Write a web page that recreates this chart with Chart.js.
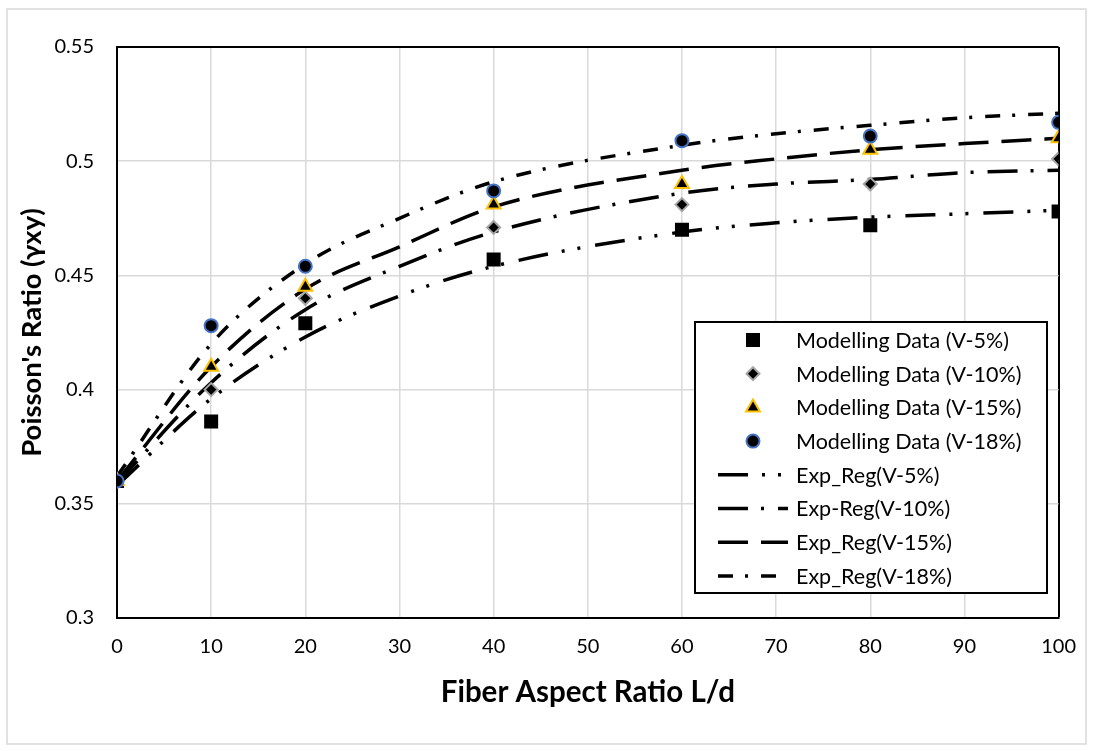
<!DOCTYPE html>
<html lang="en">
<head>
    <meta charset="UTF-8">
    <title>Poisson's Ratio vs Fiber Aspect Ratio</title>
    <script src="https://cdn.jsdelivr.net/npm/chart.js"></script>
    <style>
        * { margin: 0; padding: 0; box-sizing: border-box; }
        body { background: #fff; }
        .chart-box { position: relative; width: 1093px; height: 751px; }
    </style>
</head>
<body>
    <div class="chart-box">
        <canvas id="poissonChart"></canvas>
    </div>

    <script>
        // modelling results
        const aspectRatio = [0, 10, 20, 40, 60, 80, 100];
        const model5  = [0.36, 0.386, 0.429, 0.457, 0.470, 0.472, 0.478];
        const model10 = [0.36, 0.400, 0.440, 0.471, 0.481, 0.490, 0.501];
        const model15 = [0.36, 0.410, 0.445, 0.481, 0.490, 0.505, 0.510];
        const model18 = [0.36, 0.428, 0.454, 0.487, 0.509, 0.511, 0.517];

        // regression curves
        const regX  = [0, 10, 20, 30, 40, 60, 70, 80, 90, 100];
        const reg5  = [0.358, 0.396, 0.423, 0.441, 0.454, 0.469, 0.473, 0.4755, 0.477, 0.4785];
        const reg10 = [0.359, 0.403, 0.435, 0.454, 0.469, 0.486, 0.490, 0.492, 0.495, 0.496];
        const reg15 = [0.360, 0.410, 0.444, 0.4625, 0.480, 0.496, 0.501, 0.505, 0.5077, 0.510];
        const reg18 = [0.362, 0.420, 0.455, 0.475, 0.491, 0.507, 0.512, 0.5157, 0.519, 0.521];

        const xTicks = [0, 10, 20, 30, 40, 50, 60, 70, 80, 90, 100];
        const yTicks = [0.3, 0.35, 0.4, 0.45, 0.5, 0.55];
        const yTickLabels = ['0.3', '0.35', '0.4', '0.45', '0.5', '0.55'];

        const FONT = 'Lato, "Open Sans", sans-serif';

        const pts = (xs, ys) => xs.map((x, i) => ({ x: x, y: ys[i] }));

        function markerSet(label, ys, style, border, radius, order) {
            return {
                label: label,
                data: pts(aspectRatio, ys),
                showLine: false,
                pointStyle: style,
                pointRadius: radius,
                pointBackgroundColor: '#000',
                pointBorderColor: border,
                pointBorderWidth: 2,
                order: order
            };
        }

        function curveSet(label, ys, dash) {
            return {
                label: label,
                data: pts(regX, ys),
                showLine: true,
                pointRadius: 0,
                borderColor: '#000',
                borderWidth: 3.5,
                borderDash: dash,
                borderCapStyle: 'butt',
                cubicInterpolationMode: 'monotone',
                order: 10
            };
        }

        const datasets = [
            markerSet('Modelling Data (V-5%)', model5, 'rect', '#000', 8.5, 4),
            markerSet('Modelling Data (V-10%)', model10, 'rectRot', '#a5a5a5', 6.5, 3),
            markerSet('Modelling Data (V-15%)', model15, 'triangle', '#ffc000', 8, 2),
            markerSet('Modelling Data (V-18%)', model18, 'circle', '#4472c4', 6.5, 1),
            curveSet('Exp_Reg(V-5%)', reg5, [30, 14, 3, 13, 3, 15]),
            curveSet('Exp-Reg(V-10%)', reg10, [30, 13, 3, 14]),
            curveSet('Exp_Reg(V-15%)', reg15, [30, 13]),
            curveSet('Exp_Reg(V-18%)', reg18, [15, 12, 3, 13])
        ];

        // white page with a thin grey frame round the whole chart
        const chartFrame = {
            id: 'chartFrame',
            beforeDraw(chart) {
                const ctx = chart.ctx;
                ctx.save();
                ctx.fillStyle = '#fff';
                ctx.fillRect(0, 0, chart.width, chart.height);
                ctx.strokeStyle = '#d9d9d9';
                ctx.lineWidth = 1.5;
                ctx.strokeRect(7, 9, 1079, 735);
                ctx.restore();
            }
        };

        // boxed legend sitting inside the plot, lower right
        const boxLegend = {
            id: 'boxLegend',
            afterDraw(chart) {
                const ctx = chart.ctx;
                const box = { x: 695, y: 322, w: 352, h: 271 };
                ctx.save();
                ctx.fillStyle = '#fff';
                ctx.fillRect(box.x, box.y, box.w, box.h);
                ctx.strokeStyle = '#000';
                ctx.lineWidth = 2;
                ctx.strokeRect(box.x, box.y, box.w, box.h);

                ctx.font = '21.5px ' + FONT;
                ctx.textBaseline = 'middle';
                chart.data.datasets.forEach((ds, i) => {
                    const y = box.y + 18 + i * 33.7;
                    if (ds.showLine) {
                        ctx.strokeStyle = ds.borderColor;
                        ctx.lineWidth = ds.borderWidth;
                        ctx.setLineDash(ds.borderDash);
                        ctx.beginPath();
                        ctx.moveTo(718, y);
                        ctx.lineTo(788, y);
                        ctx.stroke();
                        ctx.setLineDash([]);
                    } else {
                        ctx.fillStyle = ds.pointBackgroundColor;
                        ctx.strokeStyle = ds.pointBorderColor;
                        ctx.lineWidth = ds.pointBorderWidth;
                        Chart.helpers.drawPoint(ctx, {
                            pointStyle: ds.pointStyle,
                            radius: ds.pointRadius,
                            rotation: 0,
                            borderWidth: ds.pointBorderWidth
                        }, 753, y);
                    }
                    ctx.fillStyle = '#000';
                    ctx.fillText(ds.label, 796, y + 1);
                });
                ctx.restore();
            }
        };

        const edgeColor = (last) => (c) => (c.tick && c.tick.value === last ? '#000' : '#d9d9d9');
        const edgeWidth = (last) => (c) => (c.tick && c.tick.value === last ? 2 : 1.5);

        new Chart(document.getElementById('poissonChart'), {
            type: 'scatter',
            data: { datasets: datasets },
            options: {
                responsive: true,
                maintainAspectRatio: false,
                animation: false,
                layout: { padding: { top: 47, right: 29, left: 0, bottom: 0 } },
                plugins: {
                    legend: { display: false },
                    tooltip: { enabled: false }
                },
                scales: {
                    x: {
                        type: 'linear',
                        min: 0,
                        max: 100,
                        afterBuildTicks: s => { s.ticks = xTicks.map(v => ({ value: v })); },
                        afterFit: s => { s.height = 133; },
                        grid: { color: edgeColor(100), lineWidth: edgeWidth(100), drawTicks: false },
                        border: { color: '#000', width: 2 },
                        ticks: { color: '#000', padding: 17, font: { family: FONT, size: 20 } },
                        title: {
                            display: true,
                            text: 'Fiber Aspect Ratio L/d',
                            color: '#000',
                            font: { family: FONT, size: 29.5, weight: 'bold' },
                            padding: { top: 0, bottom: 41 }
                        }
                    },
                    y: {
                        type: 'linear',
                        min: 0.3,
                        max: 0.55,
                        afterBuildTicks: s => { s.ticks = yTicks.map(v => ({ value: v })); },
                        afterFit: s => { s.width = 117; },
                        grid: { color: edgeColor(0.55), lineWidth: edgeWidth(0.55), drawTicks: false },
                        border: { color: '#000', width: 2 },
                        ticks: {
                            color: '#000',
                            padding: 23,
                            font: { family: FONT, size: 20 },
                            callback: (v, i) => yTickLabels[i]
                        },
                        title: {
                            display: true,
                            text: "Poisson's Ratio (γxy)",
                            color: '#000',
                            font: { family: FONT, size: 27.5, weight: 'bold' },
                            padding: { top: 15.5, bottom: 0 }
                        }
                    }
                }
            },
            plugins: [chartFrame, boxLegend]
        });
    </script>
</body>
</html>
